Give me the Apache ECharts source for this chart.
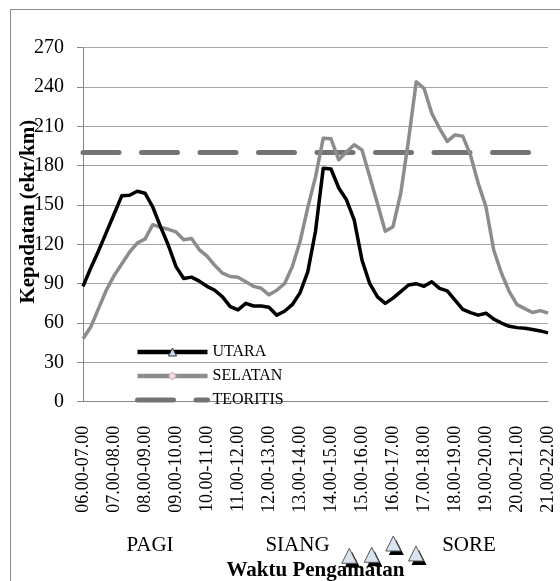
<!DOCTYPE html>
<html>
<head>
<meta charset="utf-8">
<script src="https://cdn.jsdelivr.net/npm/echarts@6/dist/echarts.min.js"></script>
<style>
html,body{margin:0;padding:0;background:#fff;}
#chart{width:560px;height:581px;}
</style>
</head>
<body>
<div id="chart"></div>
<script>
// Tick labels (shown every 4th category: hourly windows)
const tickLabels = ['06.00-07.00','07.00-08.00','08.00-09.00','09.00-10.00','10.00-11.00','11.00-12.00','12.00-13.00','13.00-14.00','14.00-15.00','15.00-16.00','16.00-17.00','17.00-18.00','18.00-19.00','19.00-20.00','20.00-21.00','21.00-22.00'];
const quarterMinutes = ['00','15','30','45'];
const periodLabels = ['PAGI','SIANG','SORE'];

// Density values (ekr/km), 15-minute moving hourly windows
const utara = [88,102,115,129,143,157,157.5,160.5,159,148.5,133.5,119.5,103,94,95,92,88,85,80,72.5,70,75,73,73,72,66,69,74,83,99,130,178,177.5,163,154,138.5,108,90,80,75,79,84,89,90,88,91.5,86.5,84.5,77.5,70.5,68,66,67.5,63,60,57.5,56.5,56,55,54,52.5];
const selatan = [48,57,71,85,96,105,114,121,124,135,133,131.5,129.5,123.5,124.5,116,111,104,98,95.5,95,91.5,88,86.5,81.5,85,90,103,122,148,171.5,201,200.5,184.5,190.5,196,192,171.5,151,130,133.5,159,199.5,244,239,220,208.5,198.5,203.5,202.5,188,166.5,148.5,115.5,98,84,74,71,68,69.5,67.5];
const teoritis = [190,190,190,190,190,190,190,190,190,190,190,190,190,190,190,190,190,190,190,190,190,190,190,190,190,190,190,190,190,190,190,190,190,190,190,190,190,190,190,190,190,190,190,190,190,190,190,190,190,190,190,190,190,190,190,190,190,190,190,190,190];

function pad(n){return (n<10?'0':'')+n;}
const categories = [];
for (let h = 0; h < tickLabels.length; h++) {
  for (let q = 0; q < 4; q++) {
    if (h === tickLabels.length - 1 && q > 0) break;
    if (q === 0) categories.push(tickLabels[h]);
    else categories.push(pad(6+h)+'.'+quarterMinutes[q]+'-'+pad(7+h)+'.'+quarterMinutes[q]);
  }
}

const FONT = 'Liberation Serif, Times New Roman, serif';
const chart = echarts.init(document.getElementById('chart'), null, {renderer:'canvas'});

function tri(cx, topY, w, h, dx, dy, fill, stroke) {
  return {
    type: 'polygon',
    shape: {points: [[cx+dx, topY+dy], [cx - w/2 + dx, topY + h + dy], [cx + w/2 + dx, topY + h + dy]]},
    style: {fill: fill, stroke: stroke, lineWidth: stroke ? 1 : 0},
    z: 100
  };
}
const triCenters = [[349.3,548.3],[371.7,547.3],[393.3,536],[416,546]];
const graphics = [
  {type:'rect', shape:{x:10.5, y:9.5, width:700, height:700}, style:{fill:'none', stroke:'#8c8c8c', lineWidth:1}, z:0, silent:true},
  {type:'text', x:150, y:545, style:{text:periodLabels[0], font:'21px '+FONT, fill:'#000', textAlign:'center', textVerticalAlign:'middle'}},
  {type:'text', x:297.5, y:545, style:{text:periodLabels[1], font:'21px '+FONT, fill:'#000', textAlign:'center', textVerticalAlign:'middle'}},
  {type:'text', x:469, y:545, style:{text:periodLabels[2], font:'21px '+FONT, fill:'#000', textAlign:'center', textVerticalAlign:'middle'}}
];
triCenters.forEach(function(p){
  graphics.push(tri(p[0], p[1], 15, 15, 3, 4, '#000', null));
  graphics.push(tri(p[0], p[1], 15, 15, 0, 0, '#d9e4f1', '#555'));
});

chart.setOption({
  animation: false,
  backgroundColor: '#fff',
  textStyle: {fontFamily: FONT},
  grid: {left: 83, right: 12, top: 47.7, bottom: 179.3, containLabel: false, outerBoundsMode: 'none'},
  legend: {
    orient: 'vertical',
    left: 130,
    top: 339,
    itemWidth: 70,
    itemHeight: 10,
    itemGap: 8,
    textStyle: {fontFamily: FONT, fontSize: 16, color: '#000'},
    data: [
      {name: 'UTARA', itemStyle: {color: '#c9daf0', borderColor: '#333', borderWidth: 1}, lineStyle: {width: 4.5}},
      {name: 'SELATAN', itemStyle: {color: '#f4dcd9', borderColor: '#b0b0b0', borderWidth: 1}, lineStyle: {width: 4.5}},
      {name: 'TEORITIS', itemStyle: {opacity: 0}, lineStyle: {width: 5}}
    ]
  },
  xAxis: {
    type: 'category',
    data: categories,
    boundaryGap: false,
    name: 'Waktu Pengamatan',
    nameLocation: 'middle',
    nameGap: 158,
    nameMoveOverlap: false,
    nameTextStyle: {fontFamily: FONT, fontSize: 21, fontWeight: 'bold', color: '#000'},
    axisLine: {lineStyle: {color: '#868686', width: 1}},
    axisTick: {show: false},
    axisLabel: {interval: 3, rotate: 90, margin: 24, fontSize: 18, fontFamily: FONT, color: '#000'},
    splitLine: {show: false}
  },
  yAxis: {
    type: 'value',
    min: 0, max: 270, interval: 30,
    name: 'Kepadatan (ekr/km)',
    nameLocation: 'middle',
    nameRotate: 90,
    nameGap: 44,
    nameMoveOverlap: false,
    nameTextStyle: {fontFamily: FONT, fontSize: 21, fontWeight: 'bold', color: '#000', padding: [0,0,0,26]},
    axisLine: {show: true, lineStyle: {color: '#868686', width: 1}},
    axisTick: {show: true, length: 6, lineStyle: {color: '#868686'}},
    axisLabel: {margin: 19, fontSize: 20, fontFamily: FONT, color: '#000'},
    splitLine: {lineStyle: {color: '#a6a6a6', width: 1}}
  },
  series: [
    {name: 'UTARA', type: 'line', data: utara, symbol: 'triangle', showSymbol: false,
     itemStyle: {color: '#000'}, lineStyle: {color: '#000', width: 3.5, join: 'round'}, z: 4},
    {name: 'SELATAN', type: 'line', data: selatan, symbol: 'diamond', showSymbol: false,
     itemStyle: {color: '#8c8c8c'}, lineStyle: {color: '#8c8c8c', width: 3.5, join: 'round'}, z: 3},
    {name: 'TEORITIS', type: 'line', data: teoritis, symbol: 'none', showSymbol: false,
     itemStyle: {color: '#777272'}, lineStyle: {color: '#777272', width: 5, type: [36, 22.5], cap: 'round'}, z: 2}
  ],
  graphic: graphics
});
</script>
</body>
</html>
